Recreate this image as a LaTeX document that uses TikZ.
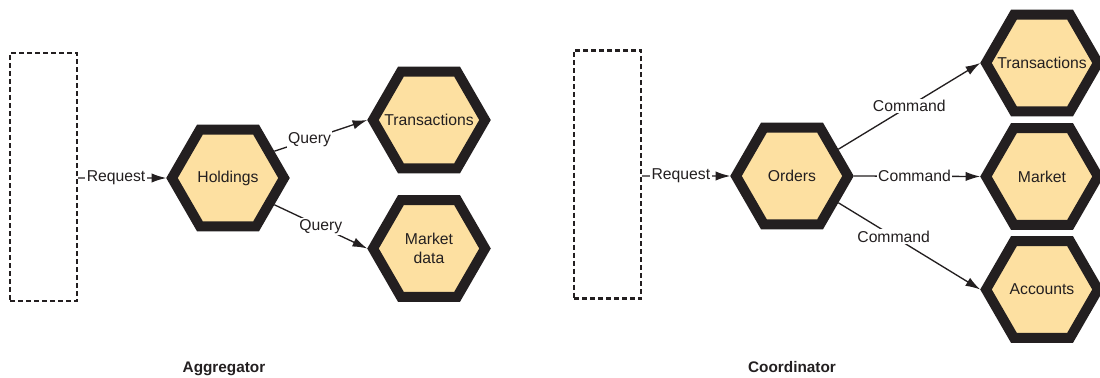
\documentclass[tikz,border=0pt]{standalone}
\usepackage{fontspec}
\setmainfont{Liberation Sans}
\usetikzlibrary{shapes.geometric,arrows.meta}
\definecolor{hexfill}{RGB}{253,224,161}
\definecolor{tinta}{RGB}{35,31,32}
\begin{document}
\begin{tikzpicture}[x=0.75pt, y=-0.75pt,
    font=\fontsize{11.8}{14.2}\selectfont,
    hexa/.style={regular polygon, regular polygon sides=6, minimum size=84pt, inner sep=0pt,
      draw=tinta, line width=7.5pt, fill=hexfill, align=center, text=tinta},
    caixa/.style={draw=tinta, line width=1.8pt, dash pattern=on 3.75pt off 2.25pt,
      minimum width=50.25pt, minimum height=186pt, inner sep=0pt},
    seta/.style={draw=tinta, line width=1pt, -{Latex[length=11pt,width=7pt]}},
    rotulo/.style={fill=white, inner sep=1pt, text=tinta},
    titulo/.style={font=\fontsize{11.5}{14}\selectfont\bfseries, text=tinta, anchor=base}]
        \useasboundingbox (0,0) rectangle (1100,378); % Moldura
        % Agregador
        \node[caixa] (agg) at (43.5,177) {}; % Caixa tracejada
        \node[hexa] (hold) at (228,178) {Holdings}; % Hexagono central
        \node[hexa] (trA) at (429,120) {\makebox[0pt]{Transactions}}; % Hexagono de cima
        \node[hexa] (mdata) at (429,248.5) {Market\\data}; % Hexagono de baixo
        \draw[seta] (agg.east |- hold) -- node[rotulo, pos=0.43] {Request} (hold.west); % Pedido
        \draw[seta] (hold.30) -- node[rotulo, pos=0.38] {Query} (trA.west); % Consulta de cima
        \draw[seta] (hold.-30) -- node[rotulo, pos=0.5] {Query} (mdata.west); % Consulta de baixo
        \node[titulo] (aggt) at (224,372) {Aggregator}; % Legenda
        % Coordenador
        \node[caixa] (coord) at (607.5,174.5) {}; % Caixa tracejada
        \node[hexa] (ord) at (792,176) {Orders}; % Hexagono central
        \node[hexa] (trB) at (1042,63) {\makebox[0pt]{Transactions}}; % Hexagono de cima
        \node[hexa] (mkt) at (1042,176.5) {Market}; % Hexagono do meio
        \node[hexa] (acc) at (1042,289.5) {Accounts}; % Hexagono de baixo
        \draw[seta] (coord.east |- ord) -- node[rotulo, pos=0.44] {Request} (ord.west); % Pedido
        \draw[seta] (ord.30) -- node[rotulo, pos=0.5] {Command} (trB.west); % Comando de cima
        \draw[seta] (ord.east) -- node[rotulo, pos=0.48] {Command} (mkt.west); % Comando do meio
        \draw[seta] (ord.-30) -- node[rotulo, pos=0.39] {Command} (acc.west); % Comando de baixo
        \node[titulo] (coordt) at (792,372) {Coordinator}; % Legenda
    \end{tikzpicture}
\end{document}
